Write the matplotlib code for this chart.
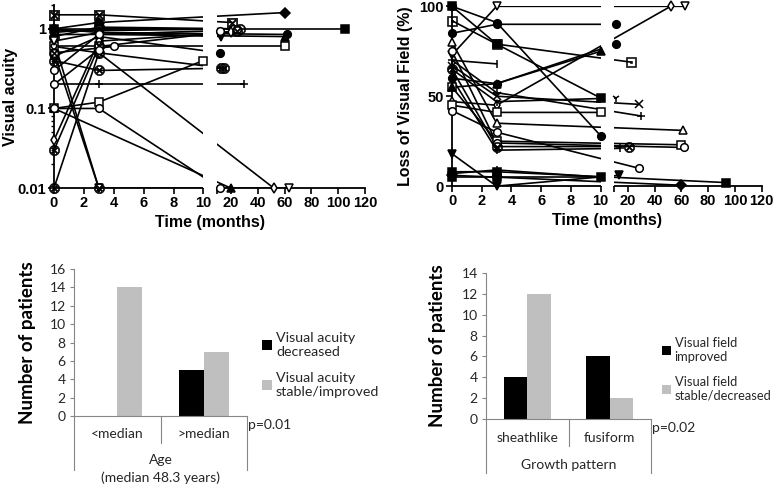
import numpy as np
import matplotlib.pyplot as plt
from matplotlib.ticker import NullLocator, FixedLocator, LogLocator, NullFormatter

# ---- data ----
# visual acuity per patient: months, values, marker, filled
va_t = [[0, 3, 21], [0, 3, 60], [0, 3, 105], [0, 3, 22], [0, 3, 27], [0, 3, 25],
        [0, 3, 13], [0, 3, 62], [0, 3, 60], [0, 3, 60], [0, 3, 12], [0, 3, 10],
        [0, 3, 13], [0, 3, 30], [0, 3, 52], [0, 20], [0, 3, 12], [0, 4],
        [0, 3, 63], [0, 3], [0, 3, 20], [0, 3, 25], [0, 3, 15], [0, 3, 12], [0, 3]]
va_v = [[1.5, 1.5, 1.2], [1.0, 1.2, 1.6], [1.0, 1.0, 1.0], [0.9, 1.0, 1.0], [0.8, 1.05, 1.0],
        [0.95, 0.95, 1.0], [0.7, 0.9, 0.8], [1.0, 0.9, 0.85], [0.85, 0.85, 0.8], [0.6, 0.6, 0.6],
        [0.45, 0.8, 0.5], [0.1, 0.12, 0.4], [0.4, 0.3, 0.32], [0.2, 0.2, 0.2], [0.6, 0.5, 0.01],
        [0.1, 0.01], [0.1, 0.1, 0.01], [0.5, 0.6], [0.7, 0.01, 0.01], [0.5, 0.01],
        [0.04, 0.7, 0.9], [0.03, 0.6, 0.95], [0.01, 0.5, 0.32], [0.3, 0.85, 0.95], [0.2, 0.55]]
va_m = [r'$\boxtimes$', 'D', 's', 'o', r'$\odot$', 'o', 'v', 'o', '^', 's', 'o', 's',
        r'$\otimes$', '+', 'd', '^', 'o', 'o', 'v', r'$\otimes$', 'd', r'$\otimes$',
        r'$\otimes$', 'o', 'o']
va_f = [0, 1, 1, 0, 0, 0, 1, 1, 1, 0, 1, 0, 0, 0, 0, 1, 0, 0, 0, 0, 0, 0, 0, 0, 0]

# loss of visual field per patient
vf_t = [[0, 3, 63], [0, 3, 52], [0, 3, 11], [0, 3, 11], [0, 3, 22], [0, 3, 10],
        [0, 3, 28], [0, 3, 11], [0, 3, 30], [0, 3, 61], [0, 3, 60], [0, 3, 62],
        [0, 3, 21], [0, 3, 14], [0, 3, 28], [0, 3, 13], [0, 3, 93], [0, 3, 60],
        [0, 3, 10], [0, 3], [0, 3, 10], [0, 3, 10], [0, 3, 10], [0, 3, 10]]
vf_v = [[73, 100, 100], [47, 45, 100], [85, 90, 90], [60, 57, 79], [92, 79, 69], [45, 41, 41],
        [67, 50, 45.5], [65, 47, 49], [70, 52, 39], [80, 35, 31], [55, 25, 23], [75, 24, 21.5],
        [65, 22, 22], [60, 20, 21], [42, 30, 10], [18, 0, 6], [8, 8, 2], [6, 5, 0.5],
        [100, 91, 28], [70, 68], [55, 57, 75], [5, 5, 5], [7, 9, 5], [100, 79, 49]]
vf_m = ['v', 'd', 'o', 'o', r'$\boxdot$', 's', 'x', '1', '+', '^', 's', 'o',
        r'$\otimes$', '+', 'o', 'v', 's', 'D', 'o', '|', '^', 's', '+', 's']
vf_f = [0, 0, 1, 1, 0, 0, 0, 0, 0, 0, 0, 0, 0, 0, 0, 1, 1, 1, 1, 0, 1, 1, 0, 1]

# bar charts
age_groups = ['<median', '>median']
va_decreased = [0, 5]
va_stable = [14, 7]
growth = ['sheathlike', 'fusiform']
vf_improved = [4, 6]
vf_stable = [12, 2]

# ---- broken time axis as a piecewise linear scale ----
B, G, K = 10.0, 0.93, 0.09


def fwd(x):
    x = np.asarray(x, dtype=float)
    return np.where(x <= B, x, B + G + (x - B) * K)


def inv(u):
    u = np.asarray(u, dtype=float)
    return np.where(u <= B, u, np.where(u < B + G, B, B + (u - B - G) / K))


tick_font = dict(family='Liberation Sans', weight='bold', size=10.5)
lab_font = dict(family='Liberation Sans', weight='bold', size=11.5)


def spaghetti(ax, times, vals, marks, filled):
    ax.set_xscale('function', functions=(fwd, inv))
    for t, v, m, f in zip(times, vals, marks, filled):
        ax.plot(t, v, color='k', lw=1.2, zorder=2)
        if m.startswith('$'):
            # symbol glyph markers: solid black glyph
            ax.plot(t, v, ls='none', marker=m, ms=7.5, mec='k', mfc='k', mew=0.4,
                    zorder=3, clip_on=False)
        else:
            ax.plot(t, v, ls='none', marker=m, ms=5.5, mec='k', mew=1.1,
                    mfc='k' if f else 'white', color='k', zorder=3, clip_on=False)
    ax.axvspan(B, B + 1e-6, color='white', zorder=2.5, lw=0)
    ax.set_xlim(0, 120)
    xt = [0, 2, 4, 6, 8, 10, B + 1e-6, 20, 40, 60, 80, 100, 120]
    xl = ['0', '2', '4', '6', '8', '10', '', '20', '40', '60', '80', '100', '120']
    ax.xaxis.set_major_locator(FixedLocator(xt))
    ax.set_xticklabels(xl, fontdict=tick_font)
    ax.xaxis.set_minor_locator(NullLocator())
    for s in ['top', 'right', 'bottom']:
        ax.spines[s].set_visible(False)
    ax.spines['left'].set_linewidth(1.3)
    tr = ax.get_xaxis_transform()
    ax.plot([0, B], [0, 0], color='k', lw=1.3, transform=tr, clip_on=False)
    ax.plot([B + 1e-6, 120], [0, 0], color='k', lw=1.3, transform=tr, clip_on=False)
    ax.tick_params(axis='both', direction='out', length=4, width=1.2, pad=2)
    ax.set_xlabel('Time (months)', fontdict=lab_font, labelpad=3)


fig = plt.figure(figsize=(7.78, 4.86), dpi=100)

ax1 = fig.add_axes([0.0694, 0.613, 0.400, 0.377])
ax1.set_yscale('log')
spaghetti(ax1, va_t, va_v, va_m, va_f)
ax1.set_ylim(0.01, 2)
ax1.set_yticks([0.01, 0.1, 1])
ax1.set_yticklabels(['0.01', '0.1', '1'], fontdict=tick_font)
ax1.yaxis.set_minor_locator(LogLocator(subs=np.arange(2, 10)))
ax1.yaxis.set_minor_formatter(NullFormatter())
ax1.tick_params(axis='y', which='minor', length=2.5, width=1)
ax1.set_ylabel('Visual acuity', fontdict=lab_font)
ax1.yaxis.set_label_coords(-0.115, 0.5)

ax2 = fig.add_axes([0.581, 0.617, 0.398, 0.370])
spaghetti(ax2, vf_t, vf_v, vf_m, vf_f)
ax2.set_ylim(0, 100)
ax2.set_yticks([0, 50, 100])
ax2.set_yticklabels(['0', '50', '100'], fontdict=tick_font)
ax2.set_ylabel('Loss of Visual Field (%)', fontdict=lab_font)
ax2.yaxis.set_label_coords(-0.125, 0.5)

# ---- bar charts (Excel look) ----
bar_font = 'Lato'
gray_line = '#868686'
light = '#bfbfbf'
txt = '#262626'


def bars(ax, cats, dec, stab, ymax, labels, group, p, lab_y, grp_y, leg_at, leg_size):
    x = np.arange(len(cats))
    w = 0.287
    ax.bar(x - w / 2, dec, w, color='black', label=labels[0])
    ax.bar(x + w / 2, stab, w, color=light, label=labels[1])
    ax.set_xlim(-0.5, len(cats) - 0.5)
    ax.set_ylim(0, ymax)
    ax.set_yticks(np.arange(0, ymax + 1, 2))
    ax.tick_params(axis='y', direction='out', length=3, color=gray_line,
                   labelsize=10, labelcolor=txt, pad=3)
    ax.set_yticklabels([str(v) for v in range(0, ymax + 1, 2)], family=bar_font)
    ax.set_xticks([])
    for s in ['top', 'right']:
        ax.spines[s].set_visible(False)
    for s in ['left', 'bottom']:
        ax.spines[s].set_color(gray_line)
        ax.spines[s].set_linewidth(0.8)
    tr = ax.get_xaxis_transform()
    for xv, depth in [(-0.5, -0.37), (0.5, -0.185), (len(cats) - 0.5, -0.37)]:
        ax.plot([xv, xv], [0, depth], color=gray_line, lw=0.8, transform=tr, clip_on=False)
    for xi, c in zip(x, cats):
        ax.text(xi, lab_y, c, transform=tr, ha='center', va='center',
                family=bar_font, fontsize=10, color=txt)
    for i, g in enumerate(group):
        ax.text(0.5, grp_y - 0.12 * i, g, transform=tr, ha='center', va='center',
                family=bar_font, fontsize=10, color=txt)
    ax.text(len(cats) - 0.49, -0.06, p, transform=tr, ha='left', va='center',
            family=bar_font, fontsize=10, color=txt)
    ax.set_ylabel('Number of patients', family=bar_font, weight='bold', fontsize=13.5)
    ax.legend(loc='center left', bbox_to_anchor=leg_at, frameon=False,
              prop=dict(family=bar_font, size=leg_size), handlelength=0.7, handleheight=0.7,
              handletextpad=0.3, labelspacing=1.0, labelcolor=txt, borderaxespad=0,
              borderpad=0)


ax3 = fig.add_axes([0.0951, 0.144, 0.2224, 0.3025])
bars(ax3, age_groups, va_decreased, va_stable, 16,
     ['Visual acuity\ndecreased', 'Visual acuity\nstable/improved'],
     ['Age', '(median 48.3 years)'], 'p=0.01', -0.122, -0.30, (1.085, 0.347), 10.3)
ax3.yaxis.set_label_coords(-0.22, 0.5)

ax4 = fig.add_axes([0.6247, 0.1379, 0.2121, 0.3004])
bars(ax4, growth, vf_improved, vf_stable, 14,
     ['Visual field\nimproved', 'Visual field\nstable/decreased'],
     ['Growth pattern'], 'p=0.02', -0.13, -0.315, (1.065, 0.34), 9.3)
ax4.yaxis.set_label_coords(-0.245, 0.5)

fig.savefig('out.png', dpi=100)
